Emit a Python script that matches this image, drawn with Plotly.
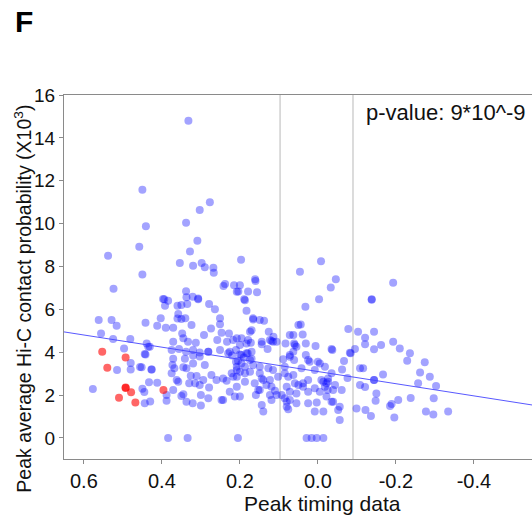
import plotly.graph_objects as go

# ---- data ----
timing_top = [0.332, 0.450, 0.277, 0.303, 0.441, 0.338, 0.309, 0.458, 0.538, 0.328, 0.197, 0.354, 0.320,
              0.298, 0.290, 0.268, 0.267, 0.450, 0.161, 0.046, -0.008, -0.046, -0.033, -0.193, -0.138, -0.138]
contact_top = [14.8, 11.58, 11.0, 10.63, 9.88, 10.04, 9.2, 8.92, 8.5, 8.7, 8.31, 8.16, 8.03,
               8.16, 7.96, 7.94, 7.71, 7.63, 7.4, 7.75, 8.25, 7.4, 7.02, 7.24, 6.45, 6.47]

timing_upper = [0.524, 0.242, 0.215, 0.200, 0.204, 0.179, 0.156, 0.189, 0.338, 0.307, 0.321, 0.337, 0.394,
                0.384, 0.392, 0.360, 0.350, 0.335, 0.279, 0.264, 0.238, 0.160, 0.187, 0.183, 0.166, 0.138,
                0.032, -0.003, 0.044, 0.050, 0.149, 0.166, 0.208, 0.397]
contact_upper = [6.96, 7.09, 7.13, 7.13, 6.83, 6.83, 6.80, 6.47, 6.85, 6.47, 6.59, 6.57, 6.47,
                 6.40, 6.17, 6.17, 6.20, 6.25, 6.25, 6.00, 7.18, 7.32, 6.43, 5.93, 5.53, 5.47,
                 6.12, 6.47, 5.30, 5.27, 5.50, 5.58, 6.82, 6.48]

timing_left = [0.562, 0.529, 0.516, 0.556, 0.525, 0.481, 0.442, 0.497, 0.515, 0.577, 0.480, 0.480, 0.456,
               0.427, 0.435, 0.442, 0.450, 0.445, 0.433, 0.412, 0.430, 0.444, 0.388, 0.388, 0.439, 0.431,
               0.444, 0.452, 0.426]
contact_left = [5.50, 5.50, 5.24, 4.88, 4.62, 4.62, 5.38, 4.18, 3.17, 2.28, 3.50, 3.20, 3.31,
                3.20, 4.26, 3.90, 2.30, 2.15, 2.60, 2.58, 1.70, 1.62, 1.74, 2.00, 4.41, 4.26,
                3.92, 3.30, 3.20]

timing_midleft = [0.412, 0.403, 0.390, 0.371, 0.358, 0.360, 0.350, 0.340, 0.307, 0.251, 0.251, 0.274, 0.292,
                  0.324, 0.348, 0.345, 0.333, 0.313, 0.371, 0.375, 0.356, 0.338, 0.320, 0.303, 0.281, 0.281,
                  0.258, 0.247, 0.233, 0.228, 0.251, 0.371, 0.341, 0.303, 0.320, 0.226, 0.220, 0.210]
contact_midleft = [5.24, 5.58, 5.14, 5.14, 5.78, 5.57, 5.55, 5.58, 6.51, 5.58, 5.31, 5.11, 4.80,
                   5.27, 4.88, 4.65, 4.49, 4.44, 4.49, 4.10, 4.15, 4.02, 4.10, 3.99, 4.02, 4.02,
                   4.57, 4.91, 4.49, 4.88, 4.10, 3.70, 3.70, 3.80, 3.85, 4.02, 3.85, 3.56]

timing_lowleft = [0.375, 0.362, 0.358, 0.373, 0.368, 0.345, 0.337, 0.326, 0.371, 0.345, 0.350, 0.337, 0.321,
                  0.300, 0.300, 0.281, 0.303, 0.315, 0.279, 0.330, 0.311, 0.294, 0.320, 0.290, 0.273, 0.260,
                  0.247, 0.243, 0.243, 0.234, 0.221, 0.208, 0.208, 0.226, 0.213]
contact_lowleft = [3.02, 2.70, 2.62, 3.40, 3.25, 3.30, 3.25, 2.90, 2.24, 2.04, 1.96, 1.69, 1.62,
                   1.51, 2.00, 1.85, 2.47, 2.55, 2.36, 2.55, 2.89, 2.70, 3.48, 3.40, 2.94, 2.70,
                   1.77, 1.77, 2.78, 2.67, 3.02, 2.86, 2.39, 2.16, 1.93]

timing_center_hi = [0.174, 0.179, 0.172, 0.196, 0.208, 0.144, 0.129, 0.119, 0.114, 0.106, 0.210, 0.200, 0.190,
                    0.180, 0.170, 0.205, 0.126, 0.063, 0.039, 0.083, 0.061, 0.055, 0.031, 0.006, 0.072, 0.031,
                    0.025, 0.000, -0.035, 0.089, 0.061, 0.196, 0.183, 0.170, 0.174, 0.123, 0.144, 0.115, 0.170,
                    0.183, 0.200, 0.217, 0.230, 0.072, 0.063, 0.059, 0.072]
contact_center_hi = [4.96, 4.57, 4.44, 4.65, 4.65, 4.37, 4.15, 4.52, 4.72, 4.49, 4.10, 3.90, 3.75,
                     3.95, 3.70, 3.60, 4.96, 4.80, 4.83, 4.41, 4.41, 4.26, 4.41, 4.29, 3.87, 3.87,
                     3.64, 3.56, 4.15, 3.67, 3.64, 3.87, 3.95, 4.02, 3.64, 4.57, 4.49, 4.49, 5.03,
                     4.41, 4.34, 4.57, 3.95, 3.79, 4.02, 4.34, 4.80]

timing_center_lo = [0.200, 0.144, 0.140, 0.153, 0.159, 0.119, 0.110, 0.119, 0.123, 0.085, 0.080, 0.076, 0.055,
                    0.080, 0.072, 0.055, 0.050, 0.038, 0.025, 0.025, 0.003, 0.008, -0.014, 0.008, -0.005, -0.018,
                    -0.009, -0.022, -0.035, 0.200, 0.187, 0.174, 0.166, 0.196, 0.208, 0.144, 0.149, 0.127, 0.132,
                    0.085, 0.085, 0.076, 0.063, 0.042, 0.059, 0.038, 0.021, 0.008, -0.014, -0.026, -0.035, -0.039,
                    0.025, -0.005, -0.018, 0.187, 0.149, 0.140, 0.123, 0.115, 0.208, 0.217, 0.187, 0.162, 0.149,
                    0.106, 0.093, 0.072, 0.080, 0.102]
contact_center_lo = [1.93, 1.54, 1.23, 2.24, 2.00, 2.39, 2.20, 1.77, 2.00, 1.85, 1.69, 1.34, 1.62,
                     2.39, 2.16, 2.08, 2.47, 2.39, 2.16, 1.62, 1.65, 1.23, 1.23, 2.32, 2.16, 2.39,
                     2.70, 2.55, 1.69, 3.09, 3.02, 3.09, 3.40, 3.48, 3.32, 2.78, 3.02, 3.25, 2.47,
                     3.32, 3.02, 2.86, 2.94, 3.25, 2.55, 2.55, 3.56, 3.17, 2.62, 2.78, 3.02, 2.24,
                     2.70, 3.48, 3.32, 3.32, 3.32, 2.70, 2.70, 3.17, 3.17, 2.86, 2.62, 2.55, 2.24,
                     2.00, 2.00, 1.77, 1.46, 2.86]

timing_right = [-0.078, -0.103, -0.144, -0.121, -0.121, -0.144, -0.162, -0.193, -0.210, -0.095, -0.037, -0.082,
                -0.067, -0.062, -0.108, -0.116, -0.076, -0.144, -0.144, -0.167, -0.108, -0.121, -0.150, -0.148,
                -0.099, -0.122, -0.136, -0.189, -0.206, -0.196, -0.185, -0.026, -0.044, -0.061, -0.022, -0.056,
                -0.052, -0.025, -0.056, -0.236, -0.229, -0.274, -0.262, -0.287, -0.257, -0.303, -0.238, -0.297,
                -0.277, -0.296, -0.334, -0.084, -0.039]
contact_right = [5.08, 4.96, 4.96, 4.68, 4.37, 4.14, 4.34, 4.49, 4.18, 4.15, 4.10, 3.98,
                 3.59, 3.20, 3.25, 3.25, 2.80, 2.70, 2.70, 2.96, 2.47, 2.38, 2.08, 1.74,
                 1.38, 1.31, 1.03, 1.59, 1.77, 0.96, 1.49, 2.62, 2.47, 2.24, 1.93, 1.46,
                 1.31, 2.24, 0.84, 3.95, 3.60, 3.53, 3.06, 2.86, 2.55, 2.42, 1.86, 1.85,
                 1.23, 1.10, 1.23, 3.95, 1.69]

timing_zero = [0.384, 0.334, 0.205, 0.029, 0.016, 0.003, -0.014]
contact_zero = [0, 0, 0, 0, 0, 0, 0]

timing_red = [0.553, 0.493, 0.540, 0.493, 0.493, 0.479, 0.510, 0.468, 0.396]
contact_red = [4.02, 3.76, 3.28, 2.35, 2.33, 2.13, 1.88, 1.66, 2.24]

fit_intercept = 3.10
fit_slope = 2.84
threshold_lines = [0.097, -0.09]
x_range = [0.651, -0.549]
y_range = [-0.98, 16.0]
x_tick_vals = [0.6, 0.4, 0.2, 0.0, -0.2, -0.4]
x_tick_text = ["0.6", "0.4", "0.2", "0.0", "-0.2", "-0.4"]
y_tick_vals = [0, 2, 4, 6, 8, 10, 12, 14, 16]

blue_timing = (timing_top + timing_upper + timing_left + timing_midleft + timing_lowleft +
               timing_center_hi + timing_center_lo + timing_right + timing_zero)
blue_contact = (contact_top + contact_upper + contact_left + contact_midleft + contact_lowleft +
                contact_center_hi + contact_center_lo + contact_right + contact_zero)

FONT = "Liberation Sans, Arial, sans-serif"

fig = go.Figure()
fig.add_trace(go.Scatter(x=blue_timing, y=blue_contact, mode="markers",
                         marker=dict(size=8, color="rgb(0,0,255)", opacity=0.36, line=dict(width=0)),
                         hoverinfo="skip"))
fig.add_trace(go.Scatter(x=timing_red, y=contact_red, mode="markers",
                         marker=dict(size=8, color="rgb(255,0,0)", opacity=0.6, line=dict(width=0)),
                         hoverinfo="skip"))
fit_x = list(x_range)
fit_y = [fit_intercept + fit_slope * v for v in fit_x]
fig.add_trace(go.Scatter(x=fit_x, y=fit_y, mode="lines",
                         line=dict(color="rgba(70,70,255,0.9)", width=1), hoverinfo="skip"))

for xv in threshold_lines:
    fig.add_shape(type="line", xref="x", yref="paper", x0=xv, x1=xv, y0=0, y1=1,
                  line=dict(color="#c4c4c4", width=1.2), layer="below")

fig.update_layout(
    width=532, height=516,
    margin=dict(l=64, r=0, t=95, b=57),
    paper_bgcolor="white", plot_bgcolor="white",
    showlegend=False,
    font=dict(family=FONT, size=18, color="#111111"),
    xaxis=dict(range=x_range, autorange=False, showgrid=False, zeroline=False,
               showline=True, mirror=True, linecolor="#8a8a8a", linewidth=1.2,
               ticks="outside", ticklen=4, tickcolor="#8a8a8a",
               tickvals=x_tick_vals, ticktext=x_tick_text, tickfont=dict(size=20)),
    yaxis=dict(range=y_range, autorange=False, showgrid=False, zeroline=False,
               showline=True, mirror=False, linecolor="#8a8a8a", linewidth=1.2,
               ticks="outside", ticklen=4, tickcolor="#8a8a8a",
               tickvals=y_tick_vals, tickfont=dict(size=19)),
    annotations=[
        dict(text="<b>F</b>", xref="paper", yref="paper", x=-0.108, y=1.203,
             xanchor="left", yanchor="middle", showarrow=False, font=dict(size=30, color="black")),
        dict(text="p-value: 9*10^-9", xref="paper", yref="paper", x=0.641, y=0.952,
             xanchor="left", yanchor="middle", showarrow=False, font=dict(size=22)),
        dict(text="Peak timing data", xref="paper", yref="paper", x=0.552, y=-0.122,
             xanchor="center", yanchor="middle", showarrow=False, font=dict(size=21)),
        dict(text="Peak average Hi-C contact probability (X10<sup>3</sup>)", xref="paper", yref="paper",
             x=-0.088, y=0.44, xanchor="center", yanchor="middle", textangle=-90,
             showarrow=False, font=dict(size=19.5)),
    ],
)

fig.write_html("out.html")
